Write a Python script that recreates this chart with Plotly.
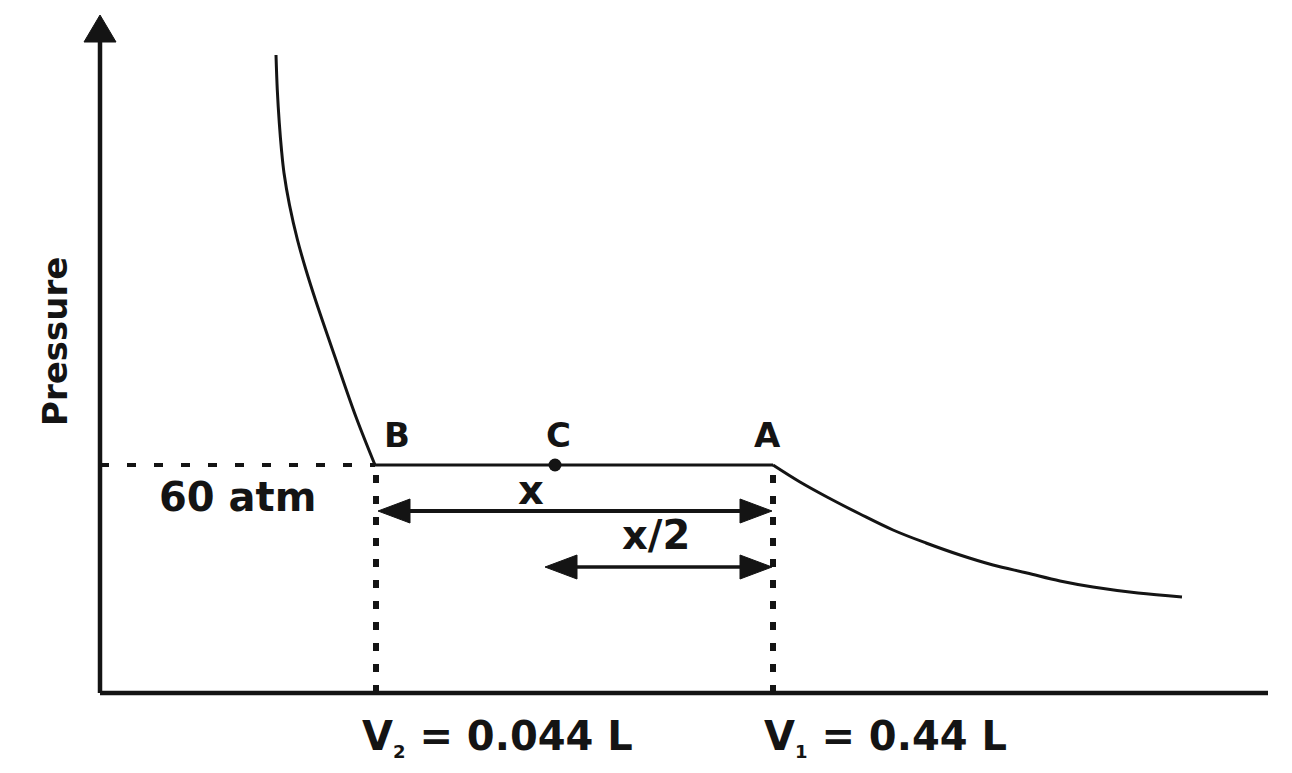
import plotly.graph_objects as go

# Diagram coordinates: origin at the axes' corner, units in diagram points
axis_x = [0, 1168]
axis_y_top = 651
arrow_tip_y = 678

# Left (liquid-like) steep curve ending at B
left_curve_x = [176, 177.3, 179.3, 181.5, 184, 189.5, 197.5, 206, 215.5, 235, 256, 275]
left_curve_y = [638, 603, 570, 543, 520, 488, 453, 423, 393, 336, 276, 228]

# Plateau B -> A
plateau_x = [275, 673]
plateau_y = [228, 228]

# Right (gas-like) curve starting at A
right_curve_x = [673, 700, 727, 760, 793, 826, 860, 893, 927, 960, 993, 1038, 1082]
right_curve_y = [228, 211, 196, 179, 163, 150, 138, 128, 120, 112, 106, 100, 96]

# Point C
point_c = (455, 228)

# Volumes V2 and V1 (dotted drop lines)
v_positions = [276, 673]
sub = '<span style="font-size:18px">{}</span>'
v_labels = ["V<sub>" + sub.format("2") + "</sub> = 0.044 L",
            "V<sub>" + sub.format("1") + "</sub> = 0.44 L"]
v_label_x = [397, 785]

# Double-headed arrows: x and x/2
arrows = [
    {"x0": 278, "x1": 672, "y": 182, "w": 4, "label": "x", "lx": 431, "ly": 203},
    {"x0": 445, "x1": 672, "y": 126, "w": 3.5, "label": "x/2", "lx": 556, "ly": 158},
]

point_labels = ["B", "C", "A"]
point_label_x = [297, 458, 667]
point_label_y = 258

pressure_label = "60 atm"

ink = "#141414"
fig = go.Figure()

# Axes
fig.add_trace(go.Scatter(x=[0, 0], y=[0, axis_y_top], mode="lines",
                         line=dict(color=ink, width=4.5), hoverinfo="skip"))
fig.add_trace(go.Scatter(x=axis_x, y=[0, 0], mode="lines",
                         line=dict(color=ink, width=4.5), hoverinfo="skip"))
fig.add_trace(go.Scatter(x=[-16, 16, 0, -16], y=[axis_y_top, axis_y_top, arrow_tip_y, axis_y_top],
                         mode="lines", fill="toself", fillcolor=ink,
                         line=dict(color=ink, width=1), hoverinfo="skip"))

# Curves
fig.add_trace(go.Scatter(x=left_curve_x, y=left_curve_y, mode="lines",
                         line=dict(color=ink, width=3, shape="spline", smoothing=1),
                         hoverinfo="skip"))
fig.add_trace(go.Scatter(x=plateau_x, y=plateau_y, mode="lines",
                         line=dict(color=ink, width=3), hoverinfo="skip"))
fig.add_trace(go.Scatter(x=right_curve_x, y=right_curve_y, mode="lines",
                         line=dict(color=ink, width=3, shape="spline", smoothing=1),
                         hoverinfo="skip"))

# Dashed pressure line
fig.add_trace(go.Scatter(x=[0, plateau_x[0]], y=[plateau_y[0], plateau_y[0]], mode="lines",
                         line=dict(color=ink, width=4, dash="9px,18px"), hoverinfo="skip"))

# Dotted volume lines
for vx in v_positions:
    fig.add_trace(go.Scatter(x=[vx, vx], y=[0, plateau_y[0] - 4], mode="lines",
                             line=dict(color=ink, width=6, dash="8px,13px"), hoverinfo="skip"))

# Point C
fig.add_trace(go.Scatter(x=[point_c[0]], y=[point_c[1]], mode="markers",
                         marker=dict(color=ink, size=13), hoverinfo="skip"))

# Double arrows
head_len, head_half = 32, 12
for a in arrows:
    fig.add_trace(go.Scatter(x=[a["x0"] + 10, a["x1"] - 10], y=[a["y"], a["y"]], mode="lines",
                             line=dict(color=ink, width=a["w"]), hoverinfo="skip"))
    for tip, direction in [(a["x0"], 1), (a["x1"], -1)]:
        base = tip + direction * head_len
        fig.add_trace(go.Scatter(x=[tip, base, base, tip],
                                 y=[a["y"], a["y"] + head_half, a["y"] - head_half, a["y"]],
                                 mode="lines", fill="toself", fillcolor=ink,
                                 line=dict(color=ink, width=1), hoverinfo="skip"))

font_main = dict(family="DejaVu Sans", size=40, color=ink, weight="bold")
font_pt = dict(family="DejaVu Sans", size=34, color=ink, weight="bold")

for lab, lx in zip(point_labels, point_label_x):
    fig.add_annotation(x=lx, y=point_label_y, text=lab, showarrow=False, font=font_pt)
for a in arrows:
    fig.add_annotation(x=a["lx"], y=a["ly"], text=a["label"], showarrow=False, font=font_main)
fig.add_annotation(x=137, y=196, text=pressure_label, showarrow=False, font=font_main)
for lab, lx in zip(v_labels, v_label_x):
    fig.add_annotation(x=lx, y=-44, text=lab, showarrow=False, font=font_main)
fig.add_annotation(x=-45, y=351, text="Pressure", showarrow=False, textangle=-90,
                   font=dict(family="DejaVu Sans", size=34, color=ink, weight="bold"))

# The page body adds an 8px offset; ranges are shifted so the diagram lands in place.
fig.update_layout(
    width=1292, height=773,
    margin=dict(l=0, r=0, t=0, b=0),
    paper_bgcolor="white", plot_bgcolor="white",
    showlegend=False,
    xaxis=dict(range=[-92, 1200], visible=False, fixedrange=True),
    yaxis=dict(range=[-88, 685], visible=False, fixedrange=True),
)

fig.write_html("out.html", config={"displayModeBar": False})
